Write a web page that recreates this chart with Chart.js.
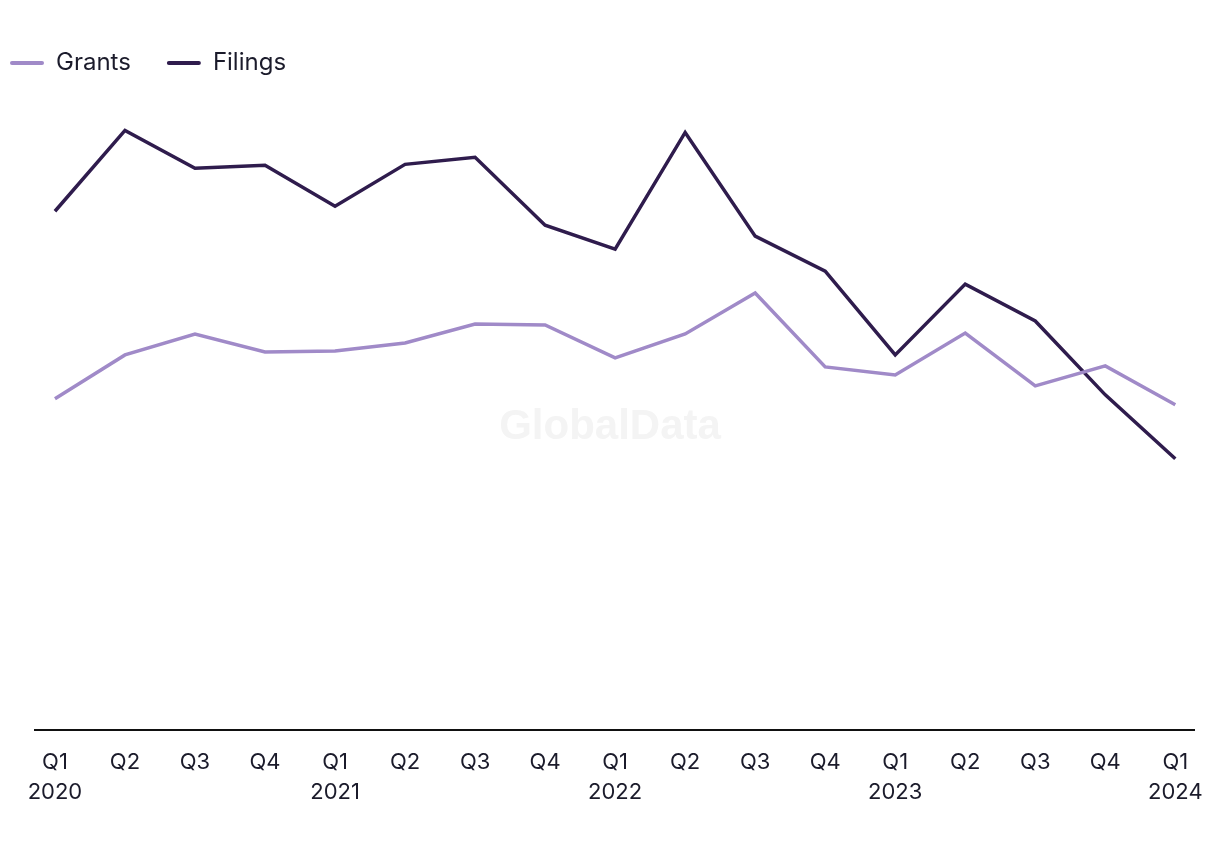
<!DOCTYPE html>
<html>
<head>
<meta charset="utf-8">
<script src="https://cdn.jsdelivr.net/npm/chart.js@4.4.1/dist/chart.umd.min.js"></script>
<style>
  html, body { margin: 0; padding: 0; background: #ffffff; }
  #wrap { width: 1220px; height: 850px; position: relative; }
</style>
</head>
<body>
<div id="wrap"><canvas id="c" width="1220" height="850"></canvas></div>
<script>
const quarters = ["Q1","Q2","Q3","Q4","Q1","Q2","Q3","Q4","Q1","Q2","Q3","Q4","Q1","Q2","Q3","Q4","Q1"];
const years    = ["2020","","","","2021","","","","2022","","","","2023","","","","2024"];
const grants   = [66.4, 75.2, 79.4, 75.8, 76.0, 77.6, 81.4, 81.2, 74.6, 79.4, 87.6, 72.8, 71.2, 79.6, 69.0, 73.0, 65.2];
const filings  = [104.0, 120.2, 112.6, 113.2, 105.0, 113.4, 114.8, 101.2, 96.4, 119.8, 99.0, 92.0, 75.2, 89.4, 82.0, 67.2, 54.4];

const GRANTS_COLOR = "#a08ac8";
const FILINGS_COLOR = "#2f1c4d";
const TEXT_COLOR = "#1b1b2b";
const FONT = "Inter, 'Liberation Sans', Arial, sans-serif";

const toPoints = arr => arr.map((v, i) => ({ x: i, y: v }));

const watermark = {
  id: "watermark",
  beforeDatasetsDraw(chart) {
    const { ctx } = chart;
    ctx.save();
    ctx.font = "bold 42px 'Liberation Sans', Arial, sans-serif";
    ctx.fillStyle = "#f4f4f4";
    ctx.textAlign = "center";
    ctx.textBaseline = "middle";
    ctx.fillText("GlobalData", 610, 427);
    ctx.restore();
  }
};

const legendShift = {
  id: "legendShift",
  afterLayout(chart) {
    if (chart.legend) { chart.legend.left = 10 - chart.options.plugins.legend.labels.padding; }
  }
};

new Chart(document.getElementById("c"), {
  type: "line",
  data: {
    datasets: [
      { label: "Grants", data: toPoints(grants), borderColor: GRANTS_COLOR, backgroundColor: GRANTS_COLOR,
        borderWidth: 3.5, pointRadius: 0, tension: 0, fill: false },
      { label: "Filings", data: toPoints(filings), borderColor: FILINGS_COLOR, backgroundColor: FILINGS_COLOR,
        borderWidth: 3.5, pointRadius: 0, tension: 0, fill: false }
    ]
  },
  options: {
    responsive: false,
    animation: false,
    layout: { padding: { left: 35, right: 25, top: 15, bottom: 26 } },
    plugins: {
      legend: {
        display: true,
        position: "top",
        align: "start",
        labels: {
          color: TEXT_COLOR,
          font: { family: FONT, size: 24 },
          boxWidth: 34,
          boxHeight: 4,
          padding: 36,
          generateLabels(chart) {
            return chart.data.datasets.map((ds, i) => ({
              text: ds.label,
              fillStyle: ds.borderColor,
              strokeStyle: ds.borderColor,
              lineWidth: 0,
              fontColor: TEXT_COLOR,
              datasetIndex: i,
              borderRadius: 2
            }));
          },
          useBorderRadius: true,
          borderRadius: 2
        }
      },
      tooltip: { enabled: false }
    },
    scales: {
      x: {
        type: "linear",
        min: -0.285,
        max: 16.27,
        grid: { display: false, drawTicks: false },
        border: { display: true, color: "#111111", width: 2 },
        afterBuildTicks(scale) {
          scale.ticks = quarters.map((q, i) => ({ value: i }));
        },
        ticks: {
          color: TEXT_COLOR,
          font: { family: FONT, size: 22, lineHeight: 1.36 },
          padding: 17,
          maxRotation: 0,
          autoSkip: false,
          callback(value) {
            const i = Math.round(value);
            return years[i] ? [quarters[i], years[i]] : quarters[i];
          }
        }
      },
      y: {
        display: false,
        min: 0,
        max: 129.3
      }
    }
  },
  plugins: [watermark, legendShift]
});
</script>
</body>
</html>
